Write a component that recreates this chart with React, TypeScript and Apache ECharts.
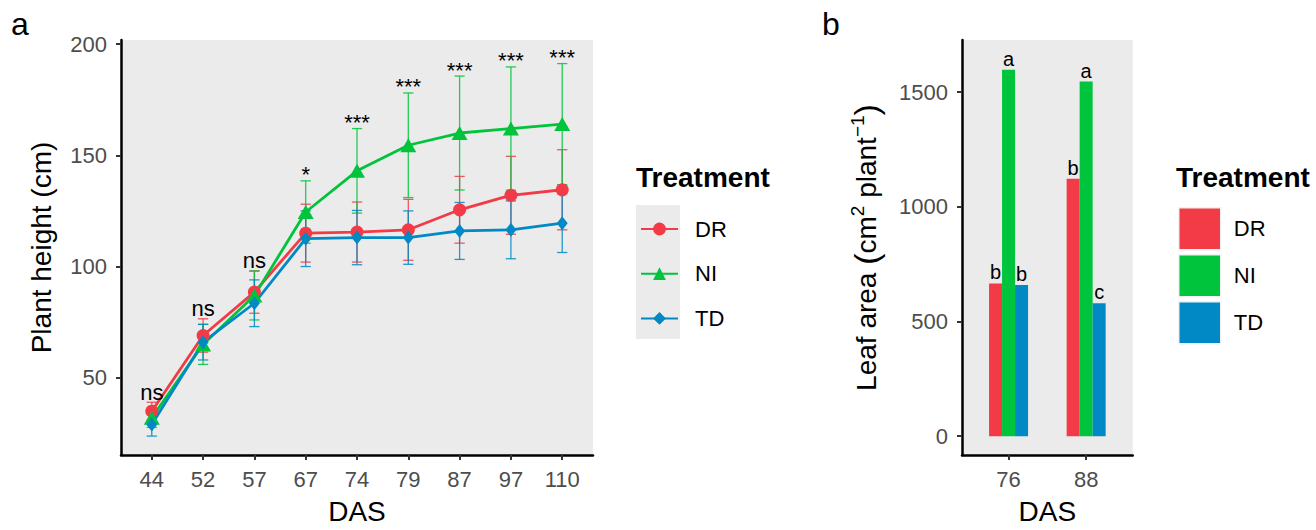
import React, { useEffect, useRef } from "react";
import * as echarts from "echarts";

// ---------- Panel a: plant height ----------
const das = ["44", "52", "57", "67", "74", "79", "87", "97", "110"];
const drMean = [35, 69, 88.5, 115, 115.5, 116.5, 125.5, 132, 134.5];
const drSd = [4, 7.5, 9.5, 13, 13.5, 13.7, 15, 17.5, 18];
const niMean = [32, 65, 87, 124.5, 143, 154.5, 160, 162, 164];
const niSd = [4.3, 9, 11, 14, 19, 23.5, 25.6, 27.7, 27.2];
const tdMean = [29, 66, 83.5, 112.5, 113, 113, 116, 116.5, 119.5];
const tdSd = [5.2, 8, 10.5, 12.5, 12.2, 12, 12.8, 13, 13.2];
const signif = ["ns", "ns", "ns", "*", "***", "***", "***", "***", "***"];
const heightTicks = [50, 100, 150, 200];

// ---------- Panel b: leaf area ----------
const leafDas = ["76", "88"];
const drArea = [666, 1122];
const niArea = [1597, 1546];
const tdArea = [659, 579];
const drLetters = ["b", "b"];
const niLetters = ["a", "a"];
const tdLetters = ["b", "c"];
const areaTicks = [0, 500, 1000, 1500];

const treatments = ["DR", "NI", "TD"];
const COLORS: Record<string, string> = { DR: "#F23B47", NI: "#00C43C", TD: "#0089C4" };
const FONT = "'Liberation Sans', Arial, Helvetica, sans-serif";

function errorSeries(name: string, mean: number[], sd: number[]) {
  const color = COLORS[name];
  return {
    type: "custom",
    name: name + " sd",
    z: 1,
    silent: true,
    encode: { x: 0, y: [1, 2] },
    data: mean.map((m, i) => [i + 1, m - sd[i], m + sd[i]]),
    renderItem: (params: any, api: any) => {
      const x = api.value(0);
      const lo = api.coord([x, api.value(1)]);
      const hi = api.coord([x, api.value(2)]);
      const half = api.size([0.2, 0])[0] / 2;
      const st = { stroke: color, lineWidth: 1.3, opacity: 0.85 };
      return {
        type: "group",
        children: [
          { type: "line", shape: { x1: lo[0], y1: lo[1], x2: hi[0], y2: hi[1] }, style: st },
          { type: "line", shape: { x1: lo[0] - half, y1: lo[1], x2: lo[0] + half, y2: lo[1] }, style: st },
          { type: "line", shape: { x1: hi[0] - half, y1: hi[1], x2: hi[0] + half, y2: hi[1] }, style: st },
        ],
      };
    },
  };
}

function lineSeries(name: string, mean: number[], symbol: string, size: any) {
  return {
    type: "line",
    name,
    z: 3,
    data: mean.map((m, i) => [i + 1, m]),
    symbol,
    symbolSize: size,
    showAllSymbol: true,
    lineStyle: { color: COLORS[name], width: 2.8 },
    itemStyle: { color: COLORS[name] },
  };
}

const tops = das.map((_, i) =>
  Math.max(drMean[i] + drSd[i], niMean[i] + niSd[i], tdMean[i] + tdSd[i])
);

const axisCommon = {
  splitLine: { show: false },
  axisLine: { onZero: false, lineStyle: { color: "#000", width: 2.5 } },
};

const optionA: any = {
  animation: false,
  textStyle: { fontFamily: FONT },
  grid: {
    left: 121,
    top: 40,
    width: 472,
    height: 423,
    show: true,
    backgroundColor: "#EBEBEB",
    borderWidth: 0,
  },
  xAxis: {
    type: "value",
    min: 0.4,
    max: 9.6,
    ...axisCommon,
    axisTick: {
      customValues: das.map((_, i) => i + 1),
      length: 5,
      lineStyle: { color: "#333", width: 2 },
    },
    axisLabel: {
      customValues: das.map((_, i) => i + 1),
      formatter: (v: number) => das[Math.round(v) - 1],
      color: "#4D4D4D",
      fontSize: 22,
      margin: 13,
    },
    name: "DAS",
    nameLocation: "middle",
    nameGap: 42,
    nameTextStyle: { color: "#000", fontSize: 28 },
  },
  yAxis: {
    type: "value",
    min: 15.3,
    max: 201.8,
    ...axisCommon,
    axisTick: { customValues: heightTicks, length: 5, lineStyle: { color: "#333", width: 2 } },
    axisLabel: { customValues: heightTicks, color: "#4D4D4D", fontSize: 22, margin: 14 },
    name: "Plant height (cm)",
    nameLocation: "middle",
    nameRotate: 90,
    nameGap: 66,
    nameTextStyle: { color: "#000", fontSize: 28 },
  },
  legend: {
    data: treatments,
    orient: "vertical",
    left: 640,
    top: 218,
    padding: 0,
    itemWidth: 37,
    itemHeight: 16,
    itemGap: 22.7,
    selectedMode: false,
    textStyle: { fontSize: 22, color: "#000", lineHeight: 22, padding: [0, 0, 0, 12] },
  },
  graphic: [
    { type: "text", x: 11, y: 24, style: { text: "a", fontSize: 32, fontFamily: FONT, fill: "#000", verticalAlign: "middle" } },
    {
      type: "text",
      x: 636,
      y: 177,
      style: { text: "Treatment", fontSize: 28, fontWeight: "bold", fontFamily: FONT, fill: "#000", verticalAlign: "middle" },
    },
    { type: "rect", x: 636, y: 205, shape: { width: 44, height: 134 }, style: { fill: "#EBEBEB" }, z: -1 },
  ],
  series: [
    lineSeries("DR", drMean, "circle", 13),
    lineSeries("NI", niMean, "triangle", [16, 14]),
    lineSeries("TD", tdMean, "diamond", [11, 14]),
    errorSeries("DR", drMean, drSd),
    errorSeries("NI", niMean, niSd),
    errorSeries("TD", tdMean, tdSd),
    {
      type: "custom",
      name: "significance",
      z: 4,
      silent: true,
      encode: { x: 0, y: 1 },
      data: tops.map((t, i) => [i + 1, t]),
      renderItem: (params: any, api: any) => {
        const p = api.coord([api.value(0), api.value(1)]);
        const txt = signif[params.dataIndex];
        const lift = txt.indexOf("*") >= 0 ? 6 : 10;
        return {
          type: "text",
          x: p[0],
          y: p[1] - lift,
          style: { text: txt, fontSize: 22, fontFamily: FONT, fill: "#000", align: "center", verticalAlign: "middle" },
        };
      },
    },
  ],
};

function barSeries(name: string, values: number[], letters: string[]) {
  return {
    type: "bar",
    name,
    data: values.map((v, i) => [i + 1, v]),
    barWidth: 13,
    barGap: "0%",
    itemStyle: { color: COLORS[name] },
    label: {
      show: true,
      position: "top",
      distance: 1,
      formatter: (p: any) => letters[p.dataIndex],
      fontSize: 20,
      color: "#000",
      fontFamily: FONT,
    },
  };
}

const optionB: any = {
  animation: false,
  textStyle: { fontFamily: FONT },
  grid: {
    left: 142,
    top: 40,
    width: 170.7,
    height: 422.7,
    show: true,
    backgroundColor: "#EBEBEB",
    borderWidth: 0,
  },
  xAxis: {
    type: "value",
    min: 0.4,
    max: 2.6,
    ...axisCommon,
    axisTick: { customValues: leafDas.map((_, i) => i + 1), length: 5, lineStyle: { color: "#333", width: 2 } },
    axisLabel: {
      customValues: leafDas.map((_, i) => i + 1),
      formatter: (v: number) => leafDas[Math.round(v) - 1],
      color: "#4D4D4D",
      fontSize: 22,
      margin: 13,
    },
    name: "DAS",
    nameLocation: "middle",
    nameGap: 42,
    nameTextStyle: { color: "#000", fontSize: 28 },
  },
  yAxis: {
    type: "value",
    min: -82,
    max: 1727,
    ...axisCommon,
    axisTick: { customValues: areaTicks, length: 5, lineStyle: { color: "#333", width: 2 } },
    axisLabel: {
      customValues: areaTicks,
      formatter: (v: number) => String(Math.round(v)),
      color: "#4D4D4D",
      fontSize: 22,
      margin: 14,
    },
    name: "{n|Leaf area }{p|(}{n|cm}{s|2}{n| plant}{s|−1}{p|)}",
    nameLocation: "middle",
    nameRotate: 90,
    nameGap: 78,
    nameTextStyle: {
      color: "#000",
      fontSize: 28,
      rich: {
        n: { fontSize: 28, color: "#000", fontFamily: FONT, lineHeight: 36 },
        p: { fontSize: 34, color: "#000", fontFamily: FONT, lineHeight: 36 },
        s: { fontSize: 19, color: "#000", fontFamily: FONT, verticalAlign: "top", lineHeight: 19 },
      },
    },
  },
  legend: {
    data: treatments,
    orient: "vertical",
    left: 358,
    top: 207,
    padding: 0,
    itemWidth: 42,
    itemHeight: 42,
    itemGap: 3.5,
    icon: "rect",
    selectedMode: false,
    itemStyle: { borderColor: "#F2F2F2", borderWidth: 1.5 },
    textStyle: { fontSize: 22, color: "#000", padding: [0, 0, 0, 8] },
  },
  graphic: [
    { type: "text", x: 2, y: 24, style: { text: "b", fontSize: 32, fontFamily: FONT, fill: "#000", verticalAlign: "middle" } },
    {
      type: "text",
      x: 356,
      y: 177,
      style: { text: "Treatment", fontSize: 28, fontWeight: "bold", fontFamily: FONT, fill: "#000", verticalAlign: "middle" },
    },
  ],
  series: [
    barSeries("DR", drArea, drLetters),
    barSeries("NI", niArea, niLetters),
    barSeries("TD", tdArea, tdLetters),
  ],
};

export default function App() {
  const refA = useRef<HTMLDivElement>(null);
  const refB = useRef<HTMLDivElement>(null);
  useEffect(() => {
    const a = echarts.init(refA.current!, null, { renderer: "svg" });
    const b = echarts.init(refB.current!, null, { renderer: "svg" });
    a.setOption(optionA);
    b.setOption(optionB);
    return () => {
      a.dispose();
      b.dispose();
    };
  }, []);
  return (
    <div style={{ position: "fixed", left: 0, top: 0, width: 1316, height: 530, background: "#fff" }}>
      <div ref={refA} style={{ position: "absolute", left: 0, top: 0, width: 820, height: 530 }} />
      <div ref={refB} style={{ position: "absolute", left: 820, top: 0, width: 496, height: 530 }} />
    </div>
  );
}
